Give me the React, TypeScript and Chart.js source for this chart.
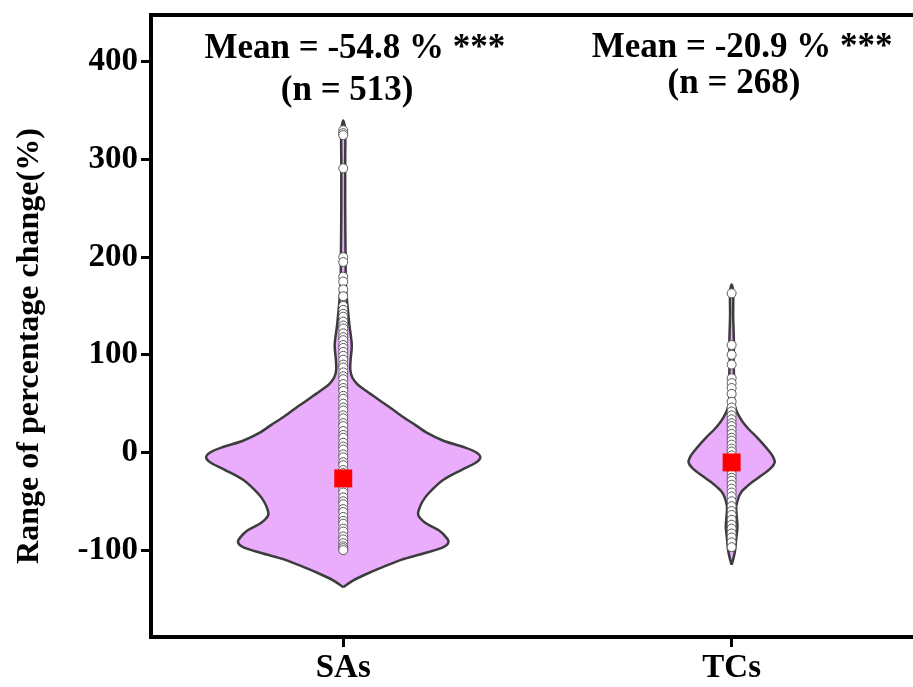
import React, { useEffect, useRef } from "react";
import { Chart, registerables } from "chart.js";

Chart.register(...registerables);

// ---------- data ----------
const CATEGORIES = ["SAs", "TCs"];
const Y_TICKS = [-100, 0, 100, 200, 300, 400];

// violin outlines: value (y) and half width in category units
const SA_PROFILE_Y = [-138, -131, -125, -118, -110, -103, -97, -92, -87, -80, -72, -64, -55, -46, -38, -28, -18, -10, -5, 0, 5, 12, 20, 28, 36, 45, 53, 60, 65, 70, 77, 85, 95, 110, 130, 150, 170, 200, 250, 300, 330, 340];
const SA_PROFILE_W = [0, 0.026, 0.057, 0.098, 0.149, 0.211, 0.258, 0.271, 0.265, 0.247, 0.211, 0.193, 0.198, 0.211, 0.229, 0.258, 0.304, 0.343, 0.353, 0.343, 0.314, 0.258, 0.216, 0.186, 0.155, 0.124, 0.095, 0.07, 0.052, 0.036, 0.023, 0.018, 0.019, 0.022, 0.016, 0.011, 0.007, 0.006, 0.005, 0.005, 0.005, 0];

const TC_PROFILE_Y = [-115, -108, -100, -88, -76, -65, -55, -46, -40, -35, -30, -25, -16, -10, -4, 2, 9, 16, 23, 30, 36, 43, 50, 65, 80, 95, 110, 140, 165, 172];
const TC_PROFILE_W = [0, 0.005, 0.009, 0.012, 0.015, 0.013, 0.012, 0.018, 0.026, 0.039, 0.054, 0.072, 0.101, 0.111, 0.106, 0.095, 0.08, 0.064, 0.046, 0.031, 0.021, 0.012, 0.007, 0.006, 0.006, 0.005, 0.006, 0.004, 0.004, 0];

// individual observations (visible circles)
const SA_POINTS = [330, 327, 325, 291, 200, 195, 180, 175, 167, 160, 150, 146, 142, 139, 134, 130, 127, 122, 118, 115, 110, 107, 103, 99, 95, 90, 87, 82, 78, 75, 70, 66, 63, 58, 55, 50, 46, 43, 38, 35, 30, 27, 22, 18, 15, 10, 6, 3, -2, -5, -10, -13, -18, -21, -26, -30, -33, -38, -41, -46, -50, -53, -58, -61, -66, -70, -73, -78, -81, -86, -89, -93, -96, -98, -100];
const TC_POINTS = [163, 110, 100, 90, 76, 71, 66, 60, 52, 46, 42, 38, 34, 30, 27, 23, 19, 15, 12, 8, 4, 1, -3, -7, -11, -14, -18, -22, -26, -29, -33, -37, -41, -45, -50, -55, -60, -64, -69, -74, -78, -83, -87, -92, -97];

const MEANS = [-26.6, -10.2];
const MEAN_LABELS = ["Mean = -54.8 % ***", "Mean = -20.9 % ***"];
const N_LABELS = ["(n = 513)", "(n = 268)"];
const Y_TITLE = "Range of percentage change(%)";

// ---------- helpers ----------
const FONT = "'Liberation Serif', 'Times New Roman', serif";

function violinPolygon(center: number, ys: number[], ws: number[]) {
  const pts: { x: number; y: number }[] = [];
  for (let i = 0; i < ys.length; i++) pts.push({ x: center + ws[i], y: ys[i] });
  for (let i = ys.length - 2; i >= 1; i--) pts.push({ x: center - ws[i], y: ys[i] });
  pts.push({ x: center, y: ys[0] });
  return pts;
}

const framePlugin = {
  id: "frame",
  afterDraw(chart: any) {
    const { ctx, chartArea } = chart;
    ctx.save();
    ctx.strokeStyle = "#000";
    ctx.lineWidth = 4;
    ctx.beginPath();
    ctx.moveTo(chartArea.left - 2, chartArea.top);
    ctx.lineTo(chart.width, chartArea.top);
    ctx.stroke();
    ctx.restore();
  },
};

const textPlugin = {
  id: "texts",
  afterDraw(chart: any) {
    const { ctx } = chart;
    const xs = chart.scales.x;
    const ys = chart.scales.y;
    ctx.save();
    ctx.fillStyle = "#000";
    ctx.font = `bold 35px ${FONT}`;
    ctx.textAlign = "center";
    ctx.textBaseline = "alphabetic";
    const meanDx = [0.03, 0.027];
    const nDx = [0.01, 0.006];
    const meanY = [403.8, 404.8];
    const nY = [360.8, 367.9];
    for (let i = 0; i < CATEGORIES.length; i++) {
      ctx.fillText(MEAN_LABELS[i], xs.getPixelForValue(i + meanDx[i]), ys.getPixelForValue(meanY[i]));
      ctx.fillText(N_LABELS[i], xs.getPixelForValue(i + nDx[i]), ys.getPixelForValue(nY[i]));
    }
    // y axis title
    ctx.font = `bold 32px ${FONT}`;
    ctx.translate(30, 346);
    ctx.rotate(-Math.PI / 2);
    ctx.textBaseline = "middle";
    ctx.fillText(Y_TITLE, 0, 0);
    ctx.restore();
  },
};

export default function App() {
  const ref = useRef<HTMLCanvasElement | null>(null);

  useEffect(() => {
    document.body.style.margin = "0";
    const canvas = ref.current;
    if (!canvas) return;

    const tickFont = { family: FONT, size: 33, weight: "bold" as const };
    const gridOpts = {
      display: true,
      drawOnChartArea: false,
      drawTicks: true,
      tickLength: 10,
      tickWidth: 3,
      tickColor: "#000",
    };
    const borderOpts = { display: true, color: "#000", width: 4 };

    const violinStyle = {
      showLine: true,
      fill: "shape",
      backgroundColor: "#e9adfc",
      borderColor: "#3c3c3c",
      borderWidth: 2.5,
      pointRadius: 0,
      tension: 0.3,
      order: 3,
    };

    const chart = new Chart(canvas, {
      type: "scatter",
      data: {
        datasets: [
          {
            label: "mean",
            data: MEANS.map((m, i) => ({ x: i, y: m })),
            pointStyle: "rect",
            pointRadius: 12.7,
            backgroundColor: "#ff0000",
            borderWidth: 0,
            order: 1,
          } as any,
          {
            label: "SAs points",
            data: SA_POINTS.map((v) => ({ x: 0, y: v })),
            pointRadius: 4.5,
            backgroundColor: "#ffffff",
            borderColor: "#5a5a5a",
            borderWidth: 1,
            order: 2,
          },
          {
            label: "TCs points",
            data: TC_POINTS.map((v) => ({ x: 1, y: v })),
            pointRadius: 4.5,
            backgroundColor: "#ffffff",
            borderColor: "#5a5a5a",
            borderWidth: 1,
            order: 2,
          },
          {
            label: "SAs violin",
            data: violinPolygon(0, SA_PROFILE_Y, SA_PROFILE_W),
            ...violinStyle,
          } as any,
          {
            label: "TCs violin",
            data: violinPolygon(1, TC_PROFILE_Y, TC_PROFILE_W),
            ...violinStyle,
          } as any,
        ],
      },
      options: {
        animation: false,
        responsive: false,
        devicePixelRatio: 1,
        events: [],
        layout: { autoPadding: false, padding: { top: 15, right: 0, left: 0, bottom: 0 } },
        plugins: {
          legend: { display: false },
          tooltip: { enabled: false },
        },
        scales: {
          x: {
            type: "linear",
            min: -0.495,
            max: 1.467,
            afterBuildTicks: (s: any) => {
              s.ticks = CATEGORIES.map((_, i) => ({ value: i }));
            },
            afterFit: (s: any) => {
              s.height = 50;
              s.paddingLeft = 0;
              s.paddingRight = 0;
            },
            ticks: {
              font: tickFont,
              color: "#000",
              padding: 2,
              maxRotation: 0,
              callback: (v: any) => CATEGORIES[v] ?? "",
            },
            grid: gridOpts,
            border: borderOpts,
          },
          y: {
            type: "linear",
            min: -189,
            max: 448,
            afterBuildTicks: (s: any) => {
              s.ticks = Y_TICKS.map((v) => ({ value: v }));
            },
            afterFit: (s: any) => {
              s.width = 151;
              s.paddingTop = 0;
              s.paddingBottom = 0;
            },
            ticks: { font: tickFont, color: "#000", padding: 3 },
            grid: gridOpts,
            border: borderOpts,
          },
        },
      },
      plugins: [framePlugin, textPlugin],
    } as any);

    return () => chart.destroy();
  }, []);

  return (
    <canvas
      ref={ref}
      width={913}
      height={687}
      style={{ display: "block", width: 913, height: 687 }}
    />
  );
}
